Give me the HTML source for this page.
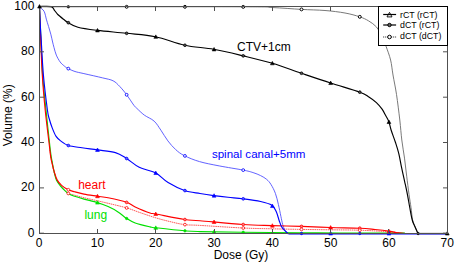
<!DOCTYPE html>
<html><head><meta charset="utf-8"><title>DVH</title>
<style>html,body{margin:0;padding:0;background:#fff;}body{width:456px;height:265px;overflow:hidden;}svg{display:block;}</style>
</head><body>
<svg width="456" height="265" viewBox="0 0 456 265">
<rect width="456" height="265" fill="#fff"/>
<path d="M39.50 6.80 C72.92 6.80 201.25 6.68 240.00 6.80 C278.75 6.92 261.78 7.07 272.00 7.50 C282.22 7.93 292.47 8.90 301.30 9.40 C310.13 9.90 317.72 9.90 325.00 10.50 C332.28 11.10 339.22 11.95 345.00 13.00 C350.78 14.05 355.77 15.48 359.70 16.80 C363.63 18.12 365.80 19.20 368.60 20.90 C371.40 22.60 374.27 24.48 376.50 27.00 C378.73 29.52 380.42 32.80 382.00 36.00 C383.58 39.20 384.57 42.20 386.00 46.20 C387.43 50.20 389.43 55.20 390.60 60.00 C391.77 64.80 392.02 69.27 393.00 75.00 C393.98 80.73 395.37 86.90 396.50 94.40 C397.63 101.90 398.92 112.40 399.80 120.00 C400.68 127.60 401.02 133.65 401.80 140.00 C402.58 146.35 403.68 152.07 404.50 158.10 C405.32 164.13 405.95 170.17 406.70 176.20 C407.45 182.23 408.28 189.08 409.00 194.30 C409.72 199.52 410.40 203.22 411.00 207.50 C411.60 211.78 411.93 216.83 412.60 220.00 C413.27 223.17 414.10 224.25 415.00 226.50 C415.90 228.75 417.50 232.33 418.00 233.50" fill="none" stroke="#6a6a6a" stroke-width="0.9"/>
<path d="M39.50 6.50 C39.63 6.72 39.72 7.25 40.30 7.80 C40.88 8.35 42.25 8.93 43.00 9.80 C43.75 10.67 44.25 11.45 44.80 13.00 C45.35 14.55 45.67 16.83 46.30 19.10 C46.93 21.37 47.85 24.08 48.60 26.60 C49.35 29.12 50.13 31.63 50.80 34.20 C51.47 36.77 52.07 39.78 52.60 42.00 C53.13 44.22 53.38 45.32 54.00 47.50 C54.62 49.68 55.28 52.70 56.30 55.10 C57.32 57.50 58.85 60.15 60.10 61.90 C61.35 63.65 62.52 64.52 63.80 65.60 C65.08 66.68 65.93 67.42 67.80 68.40 C69.67 69.38 72.32 70.63 75.00 71.50 C77.68 72.37 79.28 72.53 83.90 73.60 C88.52 74.67 97.83 76.70 102.70 77.90 C107.57 79.10 110.27 79.38 113.10 80.80 C115.93 82.22 117.50 84.15 119.70 86.40 C121.90 88.65 123.93 91.15 126.30 94.30 C128.67 97.45 132.15 102.97 133.90 105.30 C135.65 107.63 135.07 106.67 136.80 108.30 C138.53 109.93 141.42 112.97 144.30 115.10 C147.18 117.23 151.33 118.58 154.10 121.10 C156.87 123.62 158.60 126.90 160.90 130.20 C163.20 133.50 165.42 137.65 167.90 140.90 C170.38 144.15 173.05 147.23 175.80 149.70 C178.55 152.17 180.45 153.72 184.40 155.70 C188.35 157.68 193.70 159.90 199.50 161.60 C205.30 163.30 211.92 164.48 219.20 165.90 C226.48 167.32 237.55 168.98 243.20 170.10 C248.85 171.22 250.20 171.68 253.10 172.60 C256.00 173.52 258.33 174.47 260.60 175.60 C262.87 176.73 264.97 177.92 266.70 179.40 C268.43 180.88 269.55 182.17 271.00 184.50 C272.45 186.83 274.17 190.07 275.40 193.40 C276.63 196.73 277.48 200.67 278.40 204.50 C279.32 208.33 280.18 213.07 280.90 216.40 C281.62 219.73 282.02 222.18 282.70 224.50 C283.38 226.82 284.03 228.80 285.00 230.30 C285.97 231.80 287.92 232.97 288.50 233.50" fill="none" stroke="#5050ff" stroke-width="0.9"/>
<path d="M49.80 150.00 C50.08 151.67 50.88 156.67 51.50 160.00 C52.12 163.33 52.70 166.92 53.50 170.00 C54.30 173.08 55.13 175.92 56.30 178.50 C57.47 181.08 59.13 183.50 60.50 185.50 C61.87 187.50 63.28 189.20 64.50 190.50 C65.72 191.80 66.12 192.52 67.80 193.30 C69.48 194.08 71.90 194.47 74.60 195.20 C77.30 195.93 80.18 196.77 84.00 197.70 C87.82 198.63 93.48 199.87 97.50 200.80 C101.52 201.73 103.30 202.13 108.10 203.30 C112.90 204.47 120.98 206.25 126.30 207.80 C131.62 209.35 135.05 210.92 140.00 212.60 C144.95 214.28 151.00 216.40 156.00 217.90 C161.00 219.40 165.25 220.48 170.00 221.60 C174.75 222.72 179.50 223.97 184.50 224.60 C189.50 225.23 190.25 224.83 200.00 225.40 C209.75 225.97 231.00 227.43 243.00 228.00 C255.00 228.57 262.23 228.57 272.00 228.80 C281.77 229.03 291.83 229.23 301.60 229.40 C311.37 229.57 320.92 229.67 330.60 229.80 C340.28 229.93 350.00 229.87 359.70 230.20 C369.40 230.53 381.20 231.25 388.80 231.80 C396.40 232.35 402.55 233.22 405.30 233.50" fill="none" stroke="#ff4a4a" stroke-width="0.9" stroke-dasharray="1.6 0.6"/>
<path d="M39.50 6.50 C39.67 10.42 39.98 18.58 40.50 30.00 C41.02 41.42 41.68 61.67 42.60 75.00 C43.52 88.33 44.72 97.50 46.00 110.00 C47.28 122.50 49.27 141.33 50.30 150.00 C51.33 158.67 51.53 158.25 52.20 162.00 C52.87 165.75 53.58 169.45 54.30 172.50 C55.02 175.55 55.38 177.93 56.50 180.30 C57.62 182.67 59.48 184.88 61.00 186.70 C62.52 188.52 64.27 189.97 65.60 191.20 C66.93 192.43 67.50 193.25 69.00 194.10 C70.50 194.95 72.10 195.47 74.60 196.30 C77.10 197.13 80.18 198.05 84.00 199.10 C87.82 200.15 93.48 201.35 97.50 202.60 C101.52 203.85 104.68 205.05 108.10 206.60 C111.52 208.15 114.93 209.93 118.00 211.90 C121.07 213.87 123.63 216.55 126.50 218.40 C129.37 220.25 131.28 221.58 135.20 223.00 C139.12 224.42 146.53 226.10 150.00 226.90 C153.47 227.70 150.25 227.15 156.00 227.80 C161.75 228.45 177.17 230.17 184.50 230.80 C191.83 231.43 190.25 231.35 200.00 231.60 C209.75 231.85 226.33 232.12 243.00 232.30 C259.67 232.48 283.83 232.58 300.00 232.70 C316.17 232.82 322.50 232.95 340.00 233.00 C357.50 233.05 394.17 233.00 405.00 233.00" fill="none" stroke="#00e000" stroke-width="1.15"/>
<path d="M39.50 6.50 C39.63 10.42 39.83 18.58 40.30 30.00 C40.77 41.42 41.48 61.67 42.30 75.00 C43.12 88.33 44.03 98.33 45.20 110.00 C46.37 121.67 48.37 137.10 49.30 145.00 C50.23 152.90 50.27 154.07 50.80 157.40 C51.33 160.73 51.92 162.57 52.50 165.00 C53.08 167.43 53.53 169.52 54.30 172.00 C55.07 174.48 55.88 177.67 57.10 179.90 C58.32 182.13 59.82 183.78 61.60 185.40 C63.38 187.02 65.63 188.53 67.80 189.60 C69.97 190.67 71.90 191.05 74.60 191.80 C77.30 192.55 80.18 193.37 84.00 194.10 C87.82 194.83 93.48 195.58 97.50 196.20 C101.52 196.82 103.30 196.80 108.10 197.80 C112.90 198.80 121.78 200.68 126.30 202.20 C130.82 203.72 131.25 205.10 135.20 206.90 C139.15 208.70 146.53 211.82 150.00 213.00 C153.47 214.18 150.25 212.92 156.00 214.00 C161.75 215.08 177.17 218.38 184.50 219.50 C191.83 220.62 190.25 219.87 200.00 220.70 C209.75 221.53 231.00 223.68 243.00 224.50 C255.00 225.32 262.23 225.28 272.00 225.60 C281.77 225.92 291.83 226.08 301.60 226.40 C311.37 226.72 320.92 227.20 330.60 227.50 C340.28 227.80 352.30 227.87 359.70 228.20 C367.10 228.53 370.15 229.02 375.00 229.50 C379.85 229.98 385.30 230.60 388.80 231.10 C392.30 231.60 393.25 232.10 396.00 232.50 C398.75 232.90 403.75 233.33 405.30 233.50" fill="none" stroke="#ff0000" stroke-width="1.15"/>
<path d="M39.50 6.50 C39.63 9.58 40.02 19.42 40.30 25.00 C40.58 30.58 40.68 31.67 41.20 40.00 C41.72 48.33 42.37 63.33 43.40 75.00 C44.43 86.67 46.42 102.67 47.40 110.00 C48.38 117.33 48.48 115.98 49.30 119.00 C50.12 122.02 51.17 125.20 52.30 128.10 C53.43 131.00 54.72 134.27 56.10 136.40 C57.48 138.53 58.57 139.38 60.60 140.90 C62.63 142.42 64.73 144.35 68.30 145.50 C71.87 146.65 77.13 147.07 82.00 147.80 C86.87 148.53 91.93 149.10 97.50 149.90 C103.07 150.70 110.60 151.20 115.40 152.60 C120.20 154.00 122.33 155.85 126.30 158.30 C130.27 160.75 134.33 164.88 139.20 167.30 C144.07 169.72 150.68 170.25 155.50 172.80 C160.32 175.35 163.27 179.65 168.10 182.60 C172.93 185.55 179.18 188.68 184.50 190.50 C189.82 192.32 195.12 192.65 200.00 193.50 C204.88 194.35 209.13 194.97 213.80 195.60 C218.47 196.23 223.13 196.77 228.00 197.30 C232.87 197.83 237.57 198.10 243.00 198.80 C248.43 199.50 255.80 200.43 260.60 201.50 C265.40 202.57 269.18 203.48 271.80 205.20 C274.42 206.92 275.05 209.17 276.30 211.80 C277.55 214.43 278.42 218.50 279.30 221.00 C280.18 223.50 280.72 225.25 281.60 226.80 C282.48 228.35 283.45 229.12 284.60 230.30 C285.75 231.48 287.85 233.30 288.50 233.90" fill="none" stroke="#0000ff" stroke-width="1.15"/>
<path d="M288.50 233.90 L447.50 233.90" fill="none" stroke="#0000ff" stroke-width="1.15"/>
<path d="M39.50 6.50 C41.45 6.52 48.70 5.97 51.20 6.60 C53.70 7.23 53.40 8.98 54.50 10.30 C55.60 11.62 56.18 12.92 57.80 14.50 C59.42 16.08 62.52 18.47 64.20 19.80 C65.88 21.13 65.62 21.25 67.90 22.50 C70.18 23.75 72.97 25.98 77.90 27.30 C82.83 28.62 89.42 29.40 97.50 30.40 C105.58 31.40 116.73 32.25 126.40 33.30 C136.07 34.35 145.82 34.72 155.50 36.70 C165.18 38.68 174.80 43.10 184.50 45.20 C194.20 47.30 203.88 47.52 213.70 49.30 C223.52 51.08 233.62 53.57 243.40 55.90 C253.18 58.23 262.75 60.42 272.40 63.30 C282.05 66.18 291.60 69.92 301.30 73.20 C311.00 76.48 320.83 79.83 330.60 83.00 C340.37 86.17 353.52 89.87 359.90 92.20 C366.28 94.53 366.15 95.27 368.90 97.00 C371.65 98.73 374.20 100.57 376.40 102.60 C378.60 104.63 380.53 107.00 382.10 109.20 C383.67 111.40 384.68 113.75 385.80 115.80 C386.92 117.85 387.92 119.13 388.80 121.50 C389.68 123.87 390.00 126.53 391.10 130.00 C392.20 133.47 394.12 138.37 395.40 142.30 C396.68 146.23 397.78 149.45 398.80 153.60 C399.82 157.75 400.55 162.67 401.50 167.20 C402.45 171.73 403.52 176.28 404.50 180.80 C405.48 185.32 406.52 189.85 407.40 194.30 C408.27 198.75 408.94 203.22 409.75 207.50 C410.56 211.78 411.42 216.88 412.25 220.00 C413.08 223.12 413.79 224.00 414.75 226.25 C415.71 228.50 417.46 232.29 418.00 233.50" fill="none" stroke="#000" stroke-width="1.15"/>
<path d="M418 233.5 L447.5 233.5" fill="none" stroke="#000" stroke-width="1.2"/>
<circle cx="126.64" cy="218.47" r="1.25" fill="#00e000" stroke="#00e000" stroke-width="0.6"/>
<circle cx="184.93" cy="230.82" r="1.25" fill="#00e000" stroke="#00e000" stroke-width="0.6"/>
<circle cx="243.21" cy="232.30" r="1.25" fill="#00e000" stroke="#00e000" stroke-width="0.6"/>
<path d="M97.49 200.70 L99.39 204.12 L95.59 204.12 Z" fill="#00e000" stroke="#00e000" stroke-width="0.6"/>
<path d="M155.78 225.87 L157.68 229.29 L153.88 229.29 Z" fill="#00e000" stroke="#00e000" stroke-width="0.6"/>
<path d="M214.07 229.93 L215.97 233.35 L212.17 233.35 Z" fill="#00e000" stroke="#00e000" stroke-width="0.6"/>
<circle cx="126.64" cy="202.38" r="1.35" fill="#ff8080" stroke="#ff0000" stroke-width="0.8"/>
<circle cx="184.93" cy="219.53" r="1.35" fill="#ff8080" stroke="#ff0000" stroke-width="0.8"/>
<circle cx="243.21" cy="224.51" r="1.35" fill="#ff8080" stroke="#ff0000" stroke-width="0.8"/>
<circle cx="301.50" cy="226.40" r="1.35" fill="#ff8080" stroke="#ff0000" stroke-width="0.8"/>
<circle cx="359.79" cy="228.21" r="1.35" fill="#ff8080" stroke="#ff0000" stroke-width="0.8"/>
<circle cx="68.34" cy="189.78" r="1.40" fill="#fff" stroke="#ff0000" stroke-width="0.8"/>
<path d="M97.49 194.30 L99.39 197.72 L95.59 197.72 Z" fill="#ff0000" stroke="#ff0000" stroke-width="0.6"/>
<path d="M155.78 212.06 L157.68 215.48 L153.88 215.48 Z" fill="#ff0000" stroke="#ff0000" stroke-width="0.6"/>
<path d="M214.07 220.04 L215.97 223.46 L212.17 223.46 Z" fill="#ff0000" stroke="#ff0000" stroke-width="0.6"/>
<path d="M272.36 223.71 L274.26 227.13 L270.46 227.13 Z" fill="#ff0000" stroke="#ff0000" stroke-width="0.6"/>
<path d="M330.65 225.60 L332.55 229.02 L328.75 229.02 Z" fill="#ff0000" stroke="#ff0000" stroke-width="0.6"/>
<path d="M388.94 229.23 L390.84 232.65 L387.04 232.65 Z" fill="#ff0000" stroke="#ff0000" stroke-width="0.6"/>
<circle cx="68.34" cy="193.45" r="1.40" fill="#fff" stroke="#ff0000" stroke-width="0.8"/>
<circle cx="126.64" cy="207.92" r="1.40" fill="#fff" stroke="#ff0000" stroke-width="0.8"/>
<circle cx="184.93" cy="224.62" r="1.40" fill="#fff" stroke="#ff0000" stroke-width="0.8"/>
<circle cx="243.21" cy="228.01" r="1.40" fill="#fff" stroke="#ff0000" stroke-width="0.8"/>
<circle cx="301.50" cy="229.40" r="1.40" fill="#fff" stroke="#ff0000" stroke-width="0.8"/>
<circle cx="359.79" cy="230.21" r="1.40" fill="#fff" stroke="#ff0000" stroke-width="0.8"/>
<circle cx="68.34" cy="145.51" r="1.35" fill="#6060ff" stroke="#0000ff" stroke-width="0.8"/>
<circle cx="126.64" cy="158.53" r="1.35" fill="#6060ff" stroke="#0000ff" stroke-width="0.8"/>
<circle cx="184.93" cy="190.58" r="1.35" fill="#6060ff" stroke="#0000ff" stroke-width="0.8"/>
<circle cx="243.21" cy="198.83" r="1.35" fill="#6060ff" stroke="#0000ff" stroke-width="0.8"/>
<path d="M97.49 148.00 L99.39 151.42 L95.59 151.42 Z" fill="#0000ff" stroke="#0000ff" stroke-width="0.6"/>
<path d="M155.78 171.12 L157.68 174.54 L153.88 174.54 Z" fill="#0000ff" stroke="#0000ff" stroke-width="0.6"/>
<path d="M214.07 193.73 L215.97 197.15 L212.17 197.15 Z" fill="#0000ff" stroke="#0000ff" stroke-width="0.6"/>
<path d="M272.36 204.12 L274.26 207.54 L270.46 207.54 Z" fill="#0000ff" stroke="#0000ff" stroke-width="0.6"/>
<circle cx="68.34" cy="68.63" r="1.40" fill="#fff" stroke="#0000ff" stroke-width="0.85"/>
<circle cx="126.64" cy="94.78" r="1.40" fill="#fff" stroke="#0000ff" stroke-width="0.85"/>
<circle cx="184.93" cy="155.91" r="1.40" fill="#fff" stroke="#0000ff" stroke-width="0.85"/>
<circle cx="243.21" cy="170.10" r="1.40" fill="#fff" stroke="#0000ff" stroke-width="0.85"/>
<circle cx="301.50" cy="233.50" r="1.25" fill="#0000ff" stroke="#0000ff" stroke-width="0.6"/>
<circle cx="359.79" cy="233.50" r="1.25" fill="#0000ff" stroke="#0000ff" stroke-width="0.6"/>
<path d="M330.65 231.60 L332.55 235.02 L328.75 235.02 Z" fill="#0000ff" stroke="#0000ff" stroke-width="0.6"/>
<path d="M388.94 231.60 L390.84 235.02 L387.04 235.02 Z" fill="#0000ff" stroke="#0000ff" stroke-width="0.6"/>
<circle cx="68.34" cy="22.71" r="1.35" fill="#555" stroke="#000" stroke-width="0.8"/>
<circle cx="126.64" cy="33.33" r="1.35" fill="#555" stroke="#000" stroke-width="0.8"/>
<circle cx="184.93" cy="45.26" r="1.35" fill="#555" stroke="#000" stroke-width="0.8"/>
<circle cx="243.21" cy="55.86" r="1.35" fill="#555" stroke="#000" stroke-width="0.8"/>
<circle cx="301.50" cy="73.27" r="1.35" fill="#555" stroke="#000" stroke-width="0.8"/>
<circle cx="359.79" cy="92.17" r="1.35" fill="#555" stroke="#000" stroke-width="0.8"/>
<path d="M97.49 28.50 L99.39 31.92 L95.59 31.92 Z" fill="#000" stroke="#000" stroke-width="0.6"/>
<path d="M155.78 34.88 L157.68 38.30 L153.88 38.30 Z" fill="#000" stroke="#000" stroke-width="0.6"/>
<path d="M214.07 47.48 L215.97 50.90 L212.17 50.90 Z" fill="#000" stroke="#000" stroke-width="0.6"/>
<path d="M272.36 61.39 L274.26 64.81 L270.46 64.81 Z" fill="#000" stroke="#000" stroke-width="0.6"/>
<path d="M330.65 81.12 L332.55 84.54 L328.75 84.54 Z" fill="#000" stroke="#000" stroke-width="0.6"/>
<path d="M388.94 120.12 L390.84 123.54 L387.04 123.54 Z" fill="#000" stroke="#000" stroke-width="0.6"/>
<circle cx="418.08" cy="233.50" r="1.25" fill="#222" stroke="#000" stroke-width="0.6"/>
<path d="M447.30 231.60 L449.20 235.02 L445.40 235.02 Z" fill="#000" stroke="#000" stroke-width="0.6"/>
<circle cx="126.64" cy="6.80" r="1.45" fill="#fff" stroke="#000" stroke-width="1.0"/>
<circle cx="184.93" cy="6.80" r="1.45" fill="#fff" stroke="#000" stroke-width="1.0"/>
<circle cx="243.21" cy="6.87" r="1.45" fill="#fff" stroke="#000" stroke-width="1.0"/>
<circle cx="301.50" cy="9.41" r="1.45" fill="#fff" stroke="#000" stroke-width="1.0"/>
<circle cx="359.79" cy="16.84" r="1.45" fill="#fff" stroke="#000" stroke-width="1.0"/>
<circle cx="68.34" cy="6.80" r="1.25" fill="#222" stroke="#000" stroke-width="0.6"/>
<rect x="39.5" y="6.5" width="408.0" height="227.0" fill="none" stroke="#505050" stroke-width="1"/>
<line x1="39.5" y1="233.5" x2="39.5" y2="229.0" stroke="#505050" stroke-width="1"/>
<line x1="39.5" y1="6.5" x2="39.5" y2="11.0" stroke="#505050" stroke-width="1"/>
<line x1="97.5" y1="233.5" x2="97.5" y2="229.0" stroke="#505050" stroke-width="1"/>
<line x1="97.5" y1="6.5" x2="97.5" y2="11.0" stroke="#505050" stroke-width="1"/>
<line x1="155.5" y1="233.5" x2="155.5" y2="229.0" stroke="#505050" stroke-width="1"/>
<line x1="155.5" y1="6.5" x2="155.5" y2="11.0" stroke="#505050" stroke-width="1"/>
<line x1="214.5" y1="233.5" x2="214.5" y2="229.0" stroke="#505050" stroke-width="1"/>
<line x1="214.5" y1="6.5" x2="214.5" y2="11.0" stroke="#505050" stroke-width="1"/>
<line x1="272.5" y1="233.5" x2="272.5" y2="229.0" stroke="#505050" stroke-width="1"/>
<line x1="272.5" y1="6.5" x2="272.5" y2="11.0" stroke="#505050" stroke-width="1"/>
<line x1="330.5" y1="233.5" x2="330.5" y2="229.0" stroke="#505050" stroke-width="1"/>
<line x1="330.5" y1="6.5" x2="330.5" y2="11.0" stroke="#505050" stroke-width="1"/>
<line x1="388.5" y1="233.5" x2="388.5" y2="229.0" stroke="#505050" stroke-width="1"/>
<line x1="388.5" y1="6.5" x2="388.5" y2="11.0" stroke="#505050" stroke-width="1"/>
<line x1="447.5" y1="233.5" x2="447.5" y2="229.0" stroke="#505050" stroke-width="1"/>
<line x1="447.5" y1="6.5" x2="447.5" y2="11.0" stroke="#505050" stroke-width="1"/>
<line x1="39.5" y1="233.2" x2="44.0" y2="233.2" stroke="#505050" stroke-width="1"/>
<line x1="447.5" y1="233.2" x2="443.0" y2="233.2" stroke="#505050" stroke-width="1"/>
<line x1="39.5" y1="187.9" x2="44.0" y2="187.9" stroke="#505050" stroke-width="1"/>
<line x1="447.5" y1="187.9" x2="443.0" y2="187.9" stroke="#505050" stroke-width="1"/>
<line x1="39.5" y1="142.5" x2="44.0" y2="142.5" stroke="#505050" stroke-width="1"/>
<line x1="447.5" y1="142.5" x2="443.0" y2="142.5" stroke="#505050" stroke-width="1"/>
<line x1="39.5" y1="97.2" x2="44.0" y2="97.2" stroke="#505050" stroke-width="1"/>
<line x1="447.5" y1="97.2" x2="443.0" y2="97.2" stroke="#505050" stroke-width="1"/>
<line x1="39.5" y1="51.8" x2="44.0" y2="51.8" stroke="#505050" stroke-width="1"/>
<line x1="447.5" y1="51.8" x2="443.0" y2="51.8" stroke="#505050" stroke-width="1"/>
<line x1="39.5" y1="6.5" x2="44.0" y2="6.5" stroke="#505050" stroke-width="1"/>
<line x1="447.5" y1="6.5" x2="443.0" y2="6.5" stroke="#505050" stroke-width="1"/>
<path d="M39.50 4.60 L41.40 8.02 L37.60 8.02 Z" fill="#000" stroke="#000" stroke-width="0.6"/>
<rect x="378.5" y="6.5" width="69.0" height="39.0" fill="#fff" stroke="#000" stroke-width="1"/>
<path d="M389.50 12.40 L392.00 16.90 L387.00 16.90 Z" fill="#fff" stroke="#000" stroke-width="0.9"/>
<line x1="383.2" y1="14.5" x2="396.1" y2="14.5" stroke="#000" stroke-width="1.2"/>
<line x1="383.2" y1="25.0" x2="396.1" y2="25.0" stroke="#000" stroke-width="1.2"/>
<circle cx="389.50" cy="25.00" r="1.70" fill="#666" stroke="#000" stroke-width="1.0"/>
<line x1="383.2" y1="37.0" x2="396.1" y2="37.0" stroke="#000" stroke-width="0.9" stroke-dasharray="1 1"/>
<circle cx="389.50" cy="37.00" r="1.80" fill="#fff" stroke="#000" stroke-width="1.0"/>
<text x="400.00" y="17.50" font-family="Liberation Sans, sans-serif" font-size="8.8" fill="#000" text-anchor="start" >rCT (rCT)</text>
<text x="400.00" y="28.10" font-family="Liberation Sans, sans-serif" font-size="8.8" fill="#000" text-anchor="start" >dCT (rCT)</text>
<text x="400.00" y="39.30" font-family="Liberation Sans, sans-serif" font-size="8.8" fill="#000" text-anchor="start" >dCT (dCT)</text>
<text x="39.20" y="247.20" font-family="Liberation Sans, sans-serif" font-size="12" fill="#000" text-anchor="middle" >0</text>
<text x="97.49" y="247.20" font-family="Liberation Sans, sans-serif" font-size="12" fill="#000" text-anchor="middle" >10</text>
<text x="155.78" y="247.20" font-family="Liberation Sans, sans-serif" font-size="12" fill="#000" text-anchor="middle" >20</text>
<text x="214.07" y="247.20" font-family="Liberation Sans, sans-serif" font-size="12" fill="#000" text-anchor="middle" >30</text>
<text x="272.36" y="247.20" font-family="Liberation Sans, sans-serif" font-size="12" fill="#000" text-anchor="middle" >40</text>
<text x="330.65" y="247.20" font-family="Liberation Sans, sans-serif" font-size="12" fill="#000" text-anchor="middle" >50</text>
<text x="388.94" y="247.20" font-family="Liberation Sans, sans-serif" font-size="12" fill="#000" text-anchor="middle" >60</text>
<text x="447.23" y="247.20" font-family="Liberation Sans, sans-serif" font-size="12" fill="#000" text-anchor="middle" >70</text>
<text x="34.40" y="236.70" font-family="Liberation Sans, sans-serif" font-size="12" fill="#000" text-anchor="end" >0</text>
<text x="34.40" y="191.30" font-family="Liberation Sans, sans-serif" font-size="12" fill="#000" text-anchor="end" >20</text>
<text x="34.40" y="145.90" font-family="Liberation Sans, sans-serif" font-size="12" fill="#000" text-anchor="end" >40</text>
<text x="34.40" y="100.50" font-family="Liberation Sans, sans-serif" font-size="12" fill="#000" text-anchor="end" >60</text>
<text x="34.40" y="55.10" font-family="Liberation Sans, sans-serif" font-size="12" fill="#000" text-anchor="end" >80</text>
<text x="34.40" y="9.70" font-family="Liberation Sans, sans-serif" font-size="12" fill="#000" text-anchor="end" >100</text>
<text x="241.00" y="258.60" font-family="Liberation Sans, sans-serif" font-size="12" fill="#000" text-anchor="middle" >Dose (Gy)</text>
<text x="0" y="0" font-family="Liberation Sans, sans-serif" font-size="12" fill="#000" text-anchor="middle" transform="translate(11.8 115.3) rotate(-90)">Volume (%)</text>
<text x="237.00" y="51.30" font-family="Liberation Sans, sans-serif" font-size="12" fill="#000" text-anchor="start" >CTV+1cm</text>
<text x="211.90" y="157.90" font-family="Liberation Sans, sans-serif" font-size="11.6" fill="#0000ff" text-anchor="start" textLength="93.6" lengthAdjust="spacingAndGlyphs">spinal canal+5mm</text>
<text x="78.20" y="188.70" font-family="Liberation Sans, sans-serif" font-size="12" fill="#ff0000" text-anchor="start" >heart</text>
<text x="84.40" y="219.20" font-family="Liberation Sans, sans-serif" font-size="12" fill="#00e000" text-anchor="start" >lung</text>
</svg>
</body></html>
